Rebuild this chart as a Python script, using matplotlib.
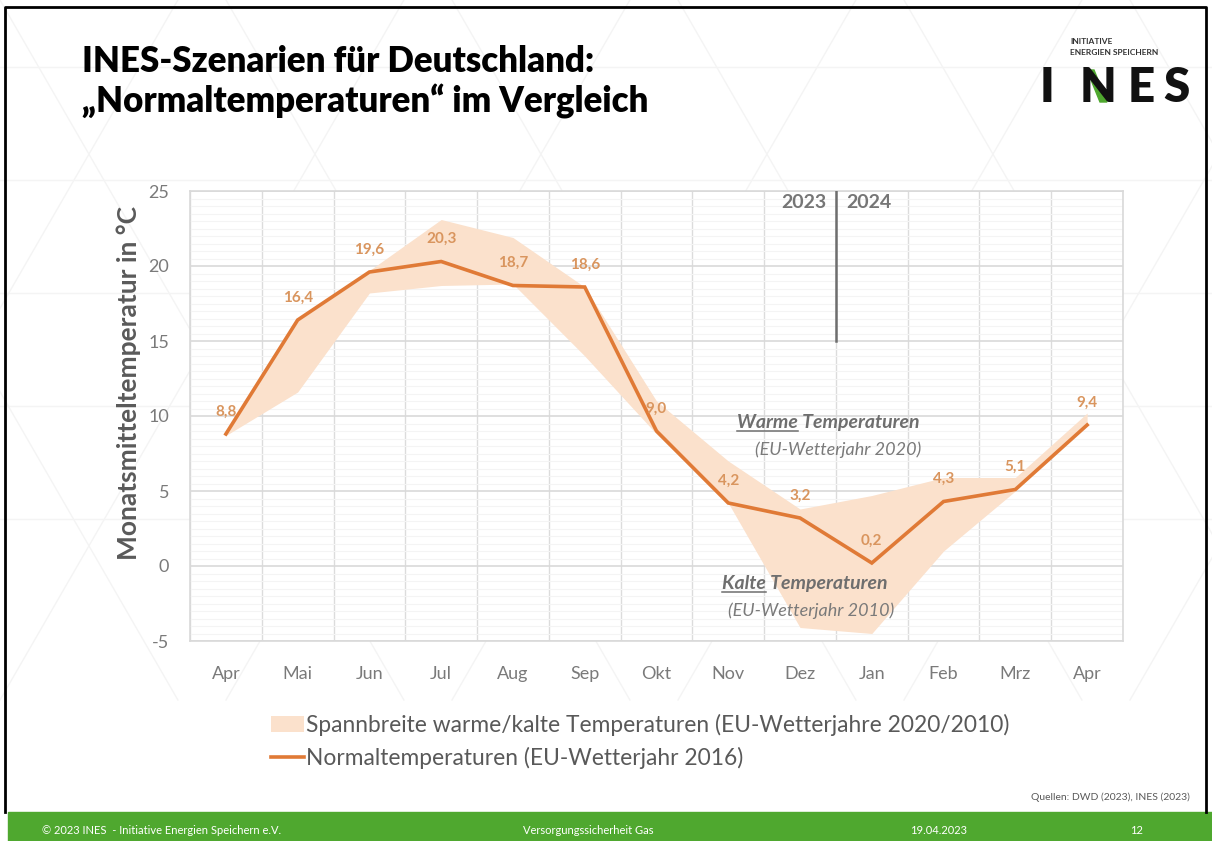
"""INES slide: Normaltemperaturen im Vergleich (Excel-style band + line chart)."""
import matplotlib

matplotlib.use("Agg")
import matplotlib.pyplot as plt  # noqa: E402
import numpy as np  # noqa: E402
from matplotlib.lines import Line2D  # noqa: E402
from matplotlib.patches import Patch, Polygon, Rectangle  # noqa: E402

plt.rcParams["axes.unicode_minus"] = False

# ---- data ----------------------------------------------------------------
months = ["Apr", "Mai", "Jun", "Jul", "Aug", "Sep", "Okt", "Nov", "Dez",
          "Jan", "Feb", "Mrz", "Apr"]
normal_2016 = [8.8, 16.4, 19.6, 20.3, 18.7, 18.6, 9.0, 4.2, 3.2, 0.2, 4.3, 5.1, 9.4]
band_upper = [9.0, 16.4, 19.7, 23.1, 21.9, 18.6, 11.0, 7.0, 3.8, 4.7, 5.9, 5.9, 10.2]
band_lower = [8.7, 11.6, 18.2, 18.7, 18.8, 14.0, 8.8, 4.2, -4.1, -4.5, 1.0, 5.0, 9.4]
y_ticks = [-5, 0, 5, 10, 15, 20, 25]

ORANGE = "#E07A36"
BAND = "#FBE1CC"
LABEL = "#D9955E"
GREY_TXT = "#6E6E6E"
TICK_TXT = "#7A7A7A"
GREEN = "#4FA82F"
FONT = "Lato"

W, H = 1212, 841
fig = plt.figure(figsize=(W / 100, H / 100), dpi=100)
fig.patch.set_facecolor("white")


def fx(px):
    return px / W


def fy(py):
    return 1 - py / H


# faint triangular background pattern
bg = fig.add_axes([0, 0, 1, 1], zorder=-5)
bg.set_xlim(0, W)
bg.set_ylim(H, 0)
bg.axis("off")
step = 226
for k in range(-6, 10):
    x0 = k * step
    bg.plot([x0, x0 + 700 * 0.577], [0, 700], color="#F4F4F4", lw=1)
    bg.plot([x0 + 700 * 0.577, x0], [0, 700], color="#F4F4F4", lw=1)
for yy in (67, 180, 293, 406, 519):
    bg.plot([0, W], [yy, yy], color="#F4F4F4", lw=1)
bg.add_patch(Rectangle((8, 812), W - 8, 29, color=GREEN, zorder=3))
bg.plot([5, 5, 1206, 1206], [812, 7, 7, 812], color="black", lw=2, zorder=4)

# ---- title + logo -------------------------------------------------------
fig.text(fx(82), fy(72), "INES-Szenarien für Deutschland:", fontsize=25,
         fontweight="heavy", family=FONT, va="baseline")
fig.text(fx(82), fy(113), "\u201eNormaltemperaturen\u201c im Vergleich", fontsize=25,
         fontweight="heavy", family=FONT, va="baseline")

fig.text(fx(1070), fy(44), "INITIATIVE", fontsize=6, family=FONT, fontweight="bold",
         color="#333333", va="baseline")
fig.text(fx(1070), fy(55), "ENERGIEN SPEICHERN", fontsize=6, family=FONT,
         fontweight="bold", color="#333333", va="baseline")
for letter, lx in zip("INES", (1040, 1080, 1128, 1163)):
    fig.text(fx(lx), fy(102), letter, fontsize=34, family=FONT, fontweight="heavy",
             color="#111111", va="baseline")
bg.add_patch(Polygon([[1087, 70], [1094, 70], [1107, 102], [1100, 102]],
                     color="#4FA82F", zorder=5))

# ---- chart ---------------------------------------------------------------
ax = fig.add_axes([fx(190), fy(641), fx(1123) - fx(190), fy(191) - fy(641)])
x = np.arange(len(months))

ax.fill_between(x, band_lower, band_upper, color=BAND, lw=0, zorder=2)
ax.plot(x, normal_2016, color=ORANGE, lw=2.6, zorder=3, solid_joinstyle="miter")

for xi, v in zip(x, normal_2016):
    ax.annotate(f"{v:.1f}".replace(".", ","), (xi, v), xytext=(0, 16),
                textcoords="offset points", ha="center", va="center",
                fontsize=11, fontweight="bold", color=LABEL, family=FONT, zorder=4)

ax.set_xlim(-0.5, len(months) - 0.5)
ax.set_ylim(-5, 25)
ax.set_xticks(x)
ax.set_xticklabels(months)
ax.set_xticks(np.arange(-0.5, len(months)), minor=True)
ax.set_yticks(y_ticks)
ax.set_yticks(np.arange(-5, 25.01, 0.5), minor=True)
ax.tick_params(axis="both", which="both", length=0)
ax.tick_params(axis="x", pad=18, labelsize=13, labelcolor=TICK_TXT)
ax.tick_params(axis="y", pad=15, labelsize=13, labelcolor=TICK_TXT)
for lab in ax.get_xticklabels() + ax.get_yticklabels():
    lab.set_family(FONT)

ax.grid(False)
ax.grid(which="minor", axis="x", color="#DCDCDC", lw=1, zorder=0)
ax.grid(which="minor", axis="y", color="#F4F4F4", lw=0.8, zorder=0)
ax.grid(which="major", axis="y", color="#D9D9D9", lw=1.2, zorder=1)
ax.set_axisbelow(True)
for sp in ax.spines.values():
    sp.set_color("#D9D9D9")
    sp.set_linewidth(1.2)

ax.set_ylabel("Monatsmitteltemperatur in °C", fontsize=19, fontweight="bold",
              color="#5A5A5A", family=FONT, va="center")
ax.yaxis.set_label_coords(-0.066, 0.573)

# year divider
ax.plot([8.5, 8.5], [15, 25], color="#6E6E6E", lw=1.8, zorder=4)
ax.text(8.36, 24.2, "2023", ha="right", va="center", fontsize=14, fontweight="bold",
        color="#767676", family=FONT)
ax.text(8.64, 24.2, "2024", ha="left", va="center", fontsize=14, fontweight="bold",
        color="#767676", family=FONT)

# band annotations, first word underlined
fig.canvas.draw()
renderer = fig.canvas.get_renderer()
for (bx, by, word, rest), (sx, sy, sub) in (
    ((7.12, 9.6, "Warme", " Temperaturen"), (7.37, 7.73, "(EU-Wetterjahr 2020)")),
    ((6.91, -1.13, "Kalte", " Temperaturen"), (7.0, -3.0, "(EU-Wetterjahr 2010)")),
):
    kw = dict(fontsize=14, fontweight="bold", fontstyle="italic", color=GREY_TXT,
              family=FONT, va="baseline", ha="left", zorder=5)
    t = ax.text(bx, by - 0.4, word + rest, **kw)
    w = ax.text(bx, by - 0.4, word, alpha=0, **kw)
    bb = w.get_window_extent(renderer).transformed(fig.transFigure.inverted())
    base = ax.transData.transform((bx, by - 0.4))
    base = fig.transFigure.inverted().transform(base)
    fig.add_artist(Line2D([bb.x0, bb.x1], [base[1] - 0.0035] * 2,
                          color=GREY_TXT, lw=1.1))
    ax.text(sx, sy, sub, fontsize=13, fontstyle="italic", color="#7A7A7A",
            family=FONT, va="center", ha="left", zorder=5)

# legend
handles = [Patch(facecolor=BAND, edgecolor="none"),
           Line2D([], [], color=ORANGE, lw=2.6)]
labels = ["Spannbreite warme/kalte Temperaturen (EU-Wetterjahre 2020/2010)",
          "Normaltemperaturen (EU-Wetterjahr 2016)"]
fig.legend(handles, labels, loc="upper left", bbox_to_anchor=(fx(250), fy(693)),
           frameon=False, handlelength=1.45, handletextpad=0.1, labelspacing=0.5,
           prop={"family": FONT, "size": 16.4}, labelcolor="#595959")

fig.text(fx(1190), fy(797), "Quellen: DWD (2023), INES (2023)", ha="right",
         va="center", fontsize=7.5, color="#595959", family=FONT)

# footer
for txt, px in (("© 2023 INES  - Initiative Energien Speichern e.V.", 42),
                ("Versorgungssicherheit Gas", 523), ("19.04.2023", 910), ("12", 1130)):
    fig.text(fx(px), fy(830), txt, color="white", fontsize=8, family=FONT, va="center")

fig.savefig("out.png", dpi=100)
